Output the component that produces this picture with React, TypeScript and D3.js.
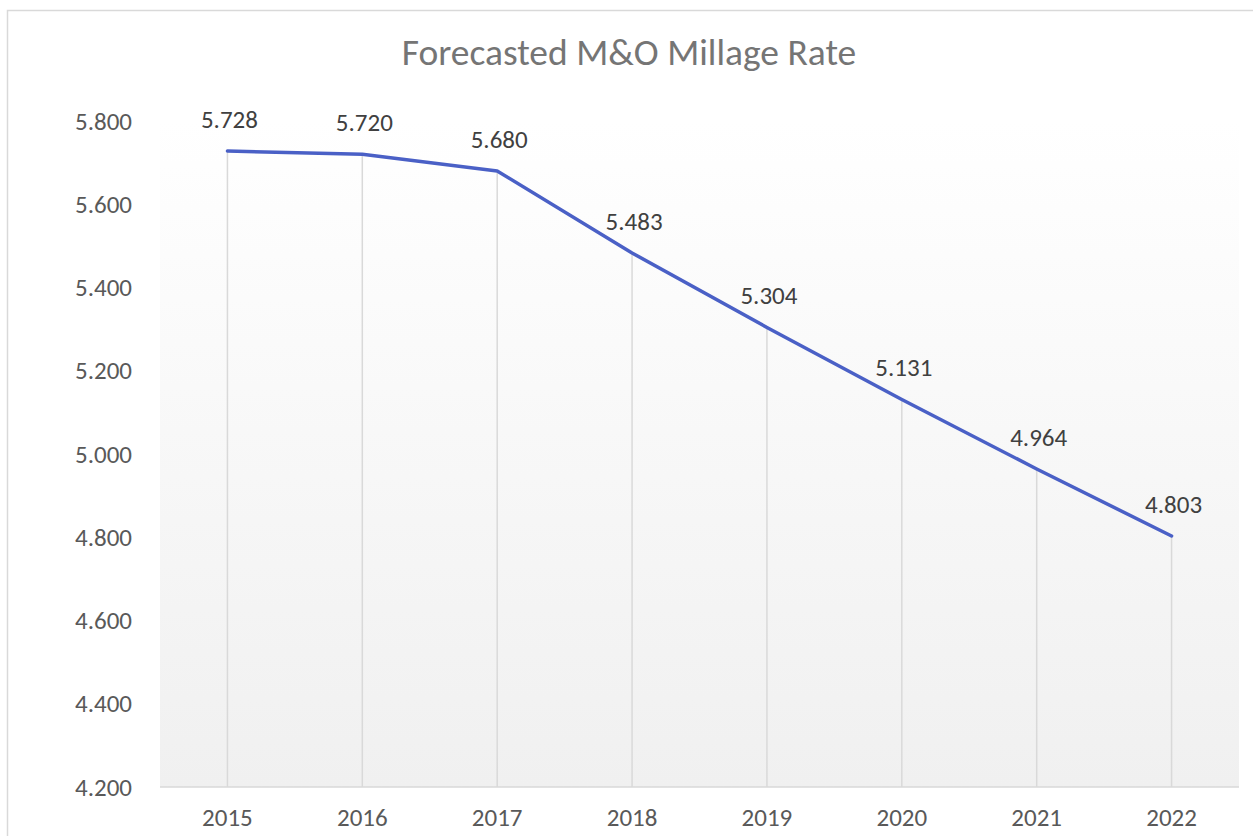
import React, { useEffect, useRef } from "react";
import * as d3 from "d3";

const years = ["2015", "2016", "2017", "2018", "2019", "2020", "2021", "2022"];
const millage = [5.728, 5.72, 5.68, 5.483, 5.304, 5.131, 4.964, 4.803];
const yTicks = [4.2, 4.4, 4.6, 4.8, 5.0, 5.2, 5.4, 5.6, 5.8];
const chartTitle = "Forecasted M&O Millage Rate";

const FONT = "Calibri, Carlito, 'Open Sans', sans-serif";

const App = () => {
  const svgRef = useRef<SVGSVGElement>(null);

  useEffect(() => {
    const width = 1253;
    const height = 836;
    const plot = { left: 160, right: 1239, top: 121, bottom: 787 };

    const svg = d3.select(svgRef.current).attr("width", width).attr("height", height);
    svg.selectAll("*").remove();

    // background + chart border
    svg.append("rect").attr("width", width).attr("height", height).attr("fill", "#ffffff");
    svg
      .append("rect")
      .attr("x", 7.5)
      .attr("y", 10.5)
      .attr("width", width + 10)
      .attr("height", height + 10)
      .attr("fill", "#ffffff")
      .attr("stroke", "#d9d9d9")
      .attr("stroke-width", 1.5);

    // plot area gradient
    const grad = svg
      .append("defs")
      .append("linearGradient")
      .attr("id", "plotGrad")
      .attr("x1", 0)
      .attr("y1", 0)
      .attr("x2", 0)
      .attr("y2", 1);
    grad.append("stop").attr("offset", "0%").attr("stop-color", "#ffffff");
    grad.append("stop").attr("offset", "100%").attr("stop-color", "#f0f0f0");
    svg
      .append("rect")
      .attr("x", plot.left)
      .attr("y", plot.top)
      .attr("width", plot.right - plot.left)
      .attr("height", plot.bottom - plot.top)
      .attr("fill", "url(#plotGrad)");

    const x = d3.scaleBand().domain(years).range([plot.left, plot.right]);
    const y = d3.scaleLinear().domain([4.2, 5.8]).range([plot.bottom, plot.top]);
    const cx = (d: string) => (x(d) ?? 0) + x.bandwidth() / 2;

    // title
    svg
      .append("text")
      .attr("x", 629)
      .attr("y", 65)
      .attr("text-anchor", "middle")
      .attr("font-family", FONT)
      .attr("font-size", 37.5)
      .attr("fill", "#757575")
      .text(chartTitle);

    // drop lines
    svg
      .append("g")
      .selectAll("line")
      .data(years)
      .enter()
      .append("line")
      .attr("x1", (d) => cx(d))
      .attr("x2", (d) => cx(d))
      .attr("y1", (d, i) => y(millage[i]))
      .attr("y2", plot.bottom)
      .attr("stroke", "#d9d9d9")
      .attr("stroke-width", 1.5);

    // x axis line
    svg
      .append("line")
      .attr("x1", plot.left)
      .attr("x2", plot.right)
      .attr("y1", plot.bottom)
      .attr("y2", plot.bottom)
      .attr("stroke", "#d9d9d9")
      .attr("stroke-width", 1.5);

    // y tick labels
    svg
      .append("g")
      .selectAll("text")
      .data(yTicks)
      .enter()
      .append("text")
      .attr("x", 132)
      .attr("y", (d) => y(d))
      .attr("dy", "0.34em")
      .attr("text-anchor", "end")
      .attr("font-family", FONT)
      .attr("font-size", 25)
      .attr("fill", "#595959")
      .text((d) => d3.format(".3f")(d));

    // x tick labels
    svg
      .append("g")
      .selectAll("text")
      .data(years)
      .enter()
      .append("text")
      .attr("x", (d) => cx(d))
      .attr("y", 826)
      .attr("text-anchor", "middle")
      .attr("font-family", FONT)
      .attr("font-size", 25)
      .attr("fill", "#595959")
      .text((d) => d);

    // line
    const line = d3
      .line<number>()
      .x((d, i) => cx(years[i]))
      .y((d) => y(d));
    svg
      .append("path")
      .datum(millage)
      .attr("d", line)
      .attr("fill", "none")
      .attr("stroke", "#4a60c6")
      .attr("stroke-width", 3.5)
      .attr("stroke-linejoin", "round")
      .attr("stroke-linecap", "round");

    // data labels
    svg
      .append("g")
      .selectAll("text")
      .data(millage)
      .enter()
      .append("text")
      .attr("x", (d, i) => cx(years[i]) + 2)
      .attr("y", (d) => y(d) - 23)
      .attr("text-anchor", "middle")
      .attr("font-family", FONT)
      .attr("font-size", 25)
      .attr("fill", "#404040")
      .text((d) => d3.format(".3f")(d));
  }, []);

  return (
    <div style={{ position: "fixed", left: 0, top: 0, width: 1253, height: 836, overflow: "hidden" }}>
      <svg ref={svgRef} style={{ display: "block" }}></svg>
    </div>
  );
};

export default App;
